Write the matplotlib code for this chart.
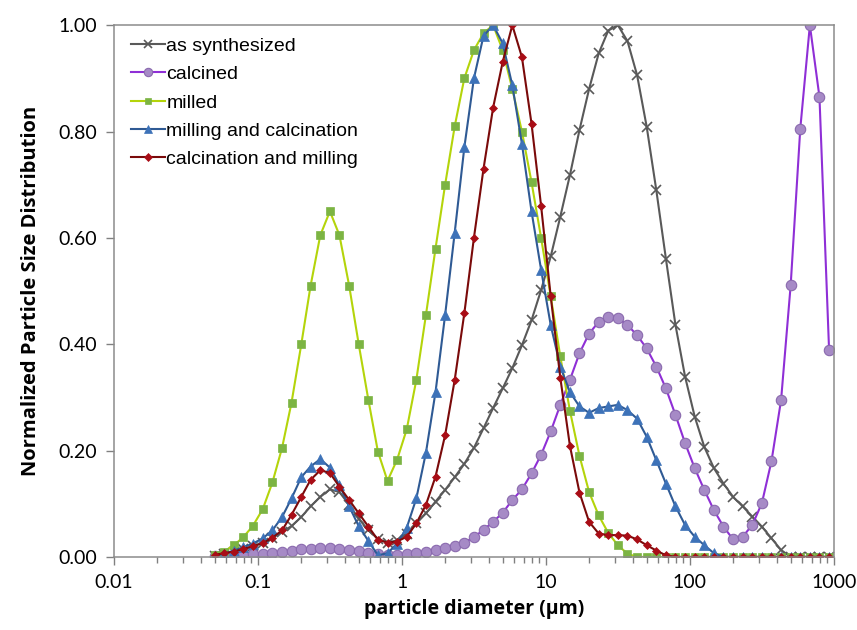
import matplotlib
matplotlib.use("Agg")
import matplotlib.pyplot as plt
from matplotlib.ticker import LogLocator, NullFormatter, FixedLocator, FuncFormatter

# Bin diameters (um), log-spaced instrument channels
diameter = [0.050, 0.058, 0.068, 0.079, 0.092, 0.108, 0.126, 0.147, 0.171, 0.200,
            0.232, 0.271, 0.316, 0.368, 0.430, 0.501, 0.585, 0.681, 0.794, 0.926,
            1.080, 1.259, 1.468, 1.711, 1.995, 2.326, 2.712, 3.162, 3.687, 4.299,
            5.012, 5.843, 6.813, 7.943, 9.261, 10.80, 12.59, 14.68, 17.11, 19.95,
            23.26, 27.12, 31.62, 36.87, 42.99, 50.12, 58.43, 68.13, 79.43, 92.61,
            108.0, 125.9, 146.8, 171.1, 199.5, 232.6, 271.2, 316.2, 368.7, 429.9,
            501.2, 584.3, 681.3, 794.3, 926.1]

as_synthesized = [0.002, 0.005, 0.009, 0.014, 0.020, 0.027, 0.036, 0.047, 0.058, 0.075,
                  0.095, 0.113, 0.127, 0.122, 0.098, 0.072, 0.050, 0.034, 0.027, 0.031,
                  0.044, 0.063, 0.082, 0.104, 0.126, 0.150, 0.175, 0.205, 0.242, 0.280,
                  0.317, 0.355, 0.398, 0.445, 0.502, 0.565, 0.640, 0.718, 0.803, 0.880,
                  0.947, 0.990, 1.000, 0.970, 0.906, 0.809, 0.690, 0.561, 0.436, 0.339,
                  0.264, 0.207, 0.167, 0.138, 0.113, 0.095, 0.076, 0.057, 0.035, 0.013,
                  0.000, 0.000, 0.000, 0.000, 0.000]

calcined = [0.001, 0.002, 0.003, 0.004, 0.005, 0.006, 0.008, 0.010, 0.012, 0.014,
            0.015, 0.016, 0.016, 0.015, 0.013, 0.011, 0.008, 0.005, 0.003, 0.004,
            0.006, 0.008, 0.010, 0.013, 0.016, 0.020, 0.027, 0.037, 0.051, 0.066,
            0.083, 0.107, 0.127, 0.157, 0.192, 0.236, 0.286, 0.333, 0.383, 0.420,
            0.442, 0.452, 0.449, 0.436, 0.417, 0.392, 0.358, 0.317, 0.267, 0.214,
            0.167, 0.126, 0.088, 0.057, 0.033, 0.038, 0.060, 0.101, 0.180, 0.295,
            0.511, 0.805, 1.000, 0.865, 0.390]

milled = [0.003, 0.010, 0.022, 0.037, 0.058, 0.090, 0.140, 0.205, 0.290, 0.400,
          0.510, 0.605, 0.650, 0.605, 0.510, 0.400, 0.295, 0.198, 0.143, 0.183,
          0.240, 0.333, 0.455, 0.580, 0.700, 0.810, 0.900, 0.953, 0.985, 1.000,
          0.953, 0.880, 0.800, 0.705, 0.600, 0.490, 0.377, 0.275, 0.190, 0.122,
          0.078, 0.045, 0.022, 0.006, 0.000, 0.000, 0.000, 0.000, 0.000, 0.000,
          0.000, 0.000, 0.000, 0.000, 0.000, 0.000, 0.000, 0.000, 0.000, 0.000,
          0.000, 0.000, 0.000, 0.000, 0.000]

milling_calcination = [0.002, 0.006, 0.012, 0.018, 0.025, 0.035, 0.050, 0.075, 0.110, 0.150,
                       0.170, 0.184, 0.168, 0.135, 0.095, 0.058, 0.030, 0.003, 0.007, 0.025,
                       0.055, 0.110, 0.196, 0.310, 0.455, 0.610, 0.770, 0.900, 0.980, 1.000,
                       0.966, 0.887, 0.777, 0.650, 0.540, 0.436, 0.358, 0.310, 0.283, 0.271,
                       0.280, 0.283, 0.286, 0.276, 0.260, 0.226, 0.182, 0.138, 0.095, 0.060,
                       0.038, 0.022, 0.007, 0.000, 0.000, 0.000, 0.000, 0.000, 0.000, 0.000,
                       0.000, 0.000, 0.000, 0.000, 0.000]

calcination_milling = [0.004, 0.007, 0.010, 0.015, 0.020, 0.026, 0.036, 0.050, 0.079, 0.113,
                       0.145, 0.163, 0.158, 0.132, 0.107, 0.082, 0.057, 0.032, 0.027, 0.029,
                       0.038, 0.063, 0.098, 0.151, 0.229, 0.333, 0.458, 0.600, 0.730, 0.845,
                       0.931, 1.000, 0.940, 0.815, 0.660, 0.490, 0.337, 0.209, 0.121, 0.066,
                       0.044, 0.041, 0.041, 0.040, 0.033, 0.022, 0.012, 0.003, 0.000, 0.000,
                       0.000, 0.000, 0.000, 0.000, 0.000, 0.000, 0.000, 0.000, 0.000, 0.000,
                       0.000, 0.000, 0.000, 0.000, 0.000]

series = [
    ("as synthesized", as_synthesized,
     dict(color="#595959", marker="x", markersize=6.5, markeredgewidth=1.2,
          markerfacecolor="#595959", markeredgecolor="#595959")),
    ("calcined", calcined,
     dict(color="#8f2fd6", marker="o", markersize=7.5, markeredgewidth=0.8,
          markerfacecolor="#a68ac6", markeredgecolor="#8a6aae")),
    ("milled", milled,
     dict(color="#b4d40a", marker="s", markersize=5.5, markeredgewidth=0.5,
          markerfacecolor="#7cb443", markeredgecolor="#7cb443")),
    ("milling and calcination", milling_calcination,
     dict(color="#2f5a94", marker="^", markersize=7, markeredgewidth=0.5,
          markerfacecolor="#3d72b8", markeredgecolor="#3d72b8")),
    ("calcination and milling", calcination_milling,
     dict(color="#7a0a0a", marker="D", markersize=4.5, markeredgewidth=0.5,
          markerfacecolor="#a80d16", markeredgecolor="#a80d16")),
]

fig = plt.figure(figsize=(8.57, 6.30), dpi=100)
ax = fig.add_axes([0.133, 0.116, 0.840, 0.844])

for label, values, style in series:
    ax.plot(diameter, values, linewidth=1.5, label=label, **style)

ax.set_xscale("log")
ax.set_xlim(0.01, 1000)
ax.set_ylim(0, 1.0)

ax.yaxis.set_major_locator(FixedLocator([0, 0.2, 0.4, 0.6, 0.8, 1.0]))
ax.yaxis.set_major_formatter(FuncFormatter(lambda v, p: f"{v:.2f}"))
ax.xaxis.set_major_locator(FixedLocator([0.01, 0.1, 1, 10, 100, 1000]))
ax.xaxis.set_major_formatter(FuncFormatter(lambda v, p: f"{v:g}"))
ax.xaxis.set_minor_locator(LogLocator(base=10, subs=range(2, 10)))
ax.xaxis.set_minor_formatter(NullFormatter())

tick_font = "Lato"
for lab in ax.get_xticklabels() + ax.get_yticklabels():
    lab.set_fontfamily(tick_font)
    lab.set_fontsize(14)

ax.tick_params(axis="both", which="major", direction="out", length=6, width=1,
               color="#808080", pad=6)
ax.tick_params(axis="x", which="minor", direction="out", length=4, width=1,
               color="#808080")
for sp in ax.spines.values():
    sp.set_color("#8c8c8c")
    sp.set_linewidth(1.1)

ax.set_xlabel("particle diameter (µm)", fontfamily="Open Sans", fontweight="bold",
              fontsize=14, labelpad=6)
ax.set_ylabel("Normalized Particle Size Distribution", fontfamily="Open Sans",
              fontweight="bold", fontsize=14.5, labelpad=13)

leg = ax.legend(loc="upper left", bbox_to_anchor=(0.0, 1.01), frameon=False,
                prop={"family": "Liberation Sans", "size": 14},
                handlelength=1.7, handletextpad=0.1, labelspacing=0.55,
                markerscale=0.8)

fig.savefig("out.png", dpi=100)
